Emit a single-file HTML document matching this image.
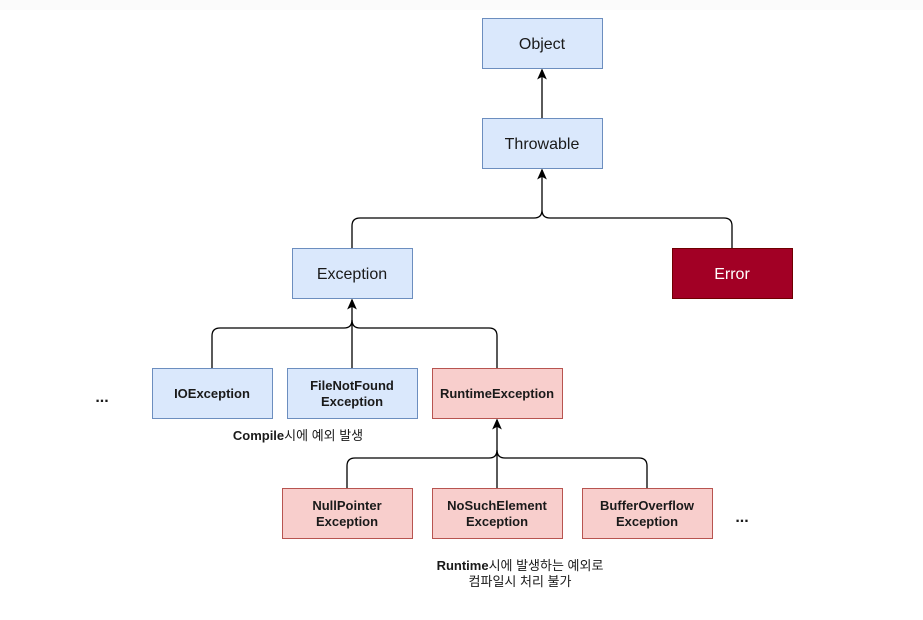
<!DOCTYPE html>
<html><head><meta charset="utf-8"><style>
html,body{margin:0;padding:0;background:#fff;}
svg{display:block;}
text{font-family:"Liberation Sans","Noto Sans CJK KR",sans-serif;}
</style></head><body>
<svg width="923" height="620" viewBox="0 0 923 620" xmlns="http://www.w3.org/2000/svg">
<rect x="0" y="0" width="923" height="10" fill="#fbfbfb"/>
<defs><marker id="a" markerWidth="8" markerHeight="8" refX="4" refY="7" orient="auto-start-reverse" markerUnits="userSpaceOnUse"><path d="M0,8 L4,0 L8,8 L4,6 Z" fill="#000"/></marker></defs>
<g fill="none" stroke="#000" stroke-width="1.3">
<path d="M542 118 L542 70" />
<path d="M542 70 l-3.5 8 l3.5 -2 l3.5 2 z" fill="#000"/>
<path d="M352 248 L352 226 Q352 218 360 218 L534 218 Q542 218 542 210 Q542 218 550 218 L724 218 Q732 218 732 226 L732 248"/>
<path d="M542 210 L542 170"/>
<path d="M542 170 l-3.5 8 l3.5 -2 l3.5 2 z" fill="#000"/>
<path d="M212 368 L212 336 Q212 328 220 328 L344 328 Q352 328 352 320 Q352 328 360 328 L489 328 Q497 328 497 336 L497 368"/>
<path d="M352 368 L352 300"/>
<path d="M352 300 l-3.5 8 l3.5 -2 l3.5 2 z" fill="#000"/>
<path d="M347 488 L347 466 Q347 458 355 458 L489 458 Q497 458 497 450 Q497 458 505 458 L639 458 Q647 458 647 466 L647 488"/>
<path d="M497 488 L497 420"/>
<path d="M497 420 l-3.5 8 l3.5 -2 l3.5 2 z" fill="#000"/>
</g>
<g stroke="#6c8ebf" fill="#dae8fc">
<rect x="482.5" y="18.5" width="120" height="50"/>
<rect x="482.5" y="118.5" width="120" height="50"/>
<rect x="292.5" y="248.5" width="120" height="50"/>
<rect x="152.5" y="368.5" width="120" height="50"/>
<rect x="287.5" y="368.5" width="130" height="50"/>
</g>
<rect x="672.5" y="248.5" width="120" height="50" fill="#a20025" stroke="#6f0000"/>
<g stroke="#b85450" fill="#f8cecc">
<rect x="432.5" y="368.5" width="130" height="50"/>
<rect x="282.5" y="488.5" width="130" height="50"/>
<rect x="432.5" y="488.5" width="130" height="50"/>
<rect x="582.5" y="488.5" width="130" height="50"/>
</g>
<g font-size="16" fill="#1a1a1a" text-anchor="middle">
<text x="542" y="49">Object</text>
<text x="542" y="149">Throwable</text>
<text x="352" y="279">Exception</text>
<text x="732" y="279" fill="#fff">Error</text>
</g>
<g font-size="13" font-weight="bold" fill="#1a1a1a" text-anchor="middle">
<text x="212" y="398">IOException</text>
<text x="352" y="390">FileNotFound</text>
<text x="352" y="406">Exception</text>
<text x="497" y="398">RuntimeException</text>
<text x="347" y="510">NullPointer</text>
<text x="347" y="526">Exception</text>
<text x="497" y="510">NoSuchElement</text>
<text x="497" y="526">Exception</text>
<text x="647" y="510">BufferOverflow</text>
<text x="647" y="526">Exception</text>
<text x="102" y="402" font-size="16">...</text>
<text x="742" y="522" font-size="16">...</text>
<text x="298" y="440"><tspan>Compile</tspan><tspan font-weight="normal">시에 예외 발생</tspan></text>
<text x="520" y="570"><tspan>Runtime</tspan><tspan font-weight="normal">시에 발생하는 예외로</tspan></text>
<text x="520" y="586" font-weight="normal">컴파일시 처리 불가</text>
</g>
</svg>
</body></html>
